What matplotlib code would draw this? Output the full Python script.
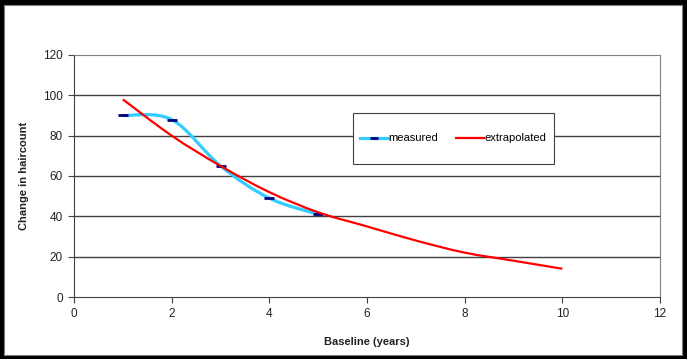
import matplotlib
matplotlib.use('Agg')
import matplotlib.pyplot as plt
from matplotlib.path import Path
from matplotlib.patches import PathPatch, Rectangle
from matplotlib.lines import Line2D
import numpy as np

plt.rcParams['font.family'] = ['Liberation Sans', 'DejaVu Sans']

# measured points
meas_x = [1, 2, 3, 4, 5]
meas_y = [90, 88, 65, 49, 41]
# extrapolated curve
extr_x = [1, 2, 3, 4, 5, 6, 7, 8, 9, 10]
extr_y = [98, 80, 65, 52, 42, 35, 28, 22, 18, 14]

xticks = [0, 2, 4, 6, 8, 10, 12]
yticks = [0, 20, 40, 60, 80, 100, 120]

cyan = '#33CCFF'
navy = '#000080'
red = '#FF0000'


def smooth_path(xs, ys):
    # Excel-style smoothed line: cubic Bezier segments through the points
    pts = np.column_stack([xs, ys]).astype(float)
    n = len(pts)
    verts = [pts[0]]
    codes = [Path.MOVETO]
    for i in range(n - 1):
        p0 = pts[i - 1] if i > 0 else pts[i]
        p1 = pts[i]
        p2 = pts[i + 1]
        p3 = pts[i + 2] if i + 2 < n else pts[i + 1]
        c1 = p1 + (p2 - p0) / 6.0
        c2 = p2 - (p3 - p1) / 6.0
        verts += [c1, c2, p2]
        codes += [Path.CURVE4] * 3
    return Path(verts, codes)


fig = plt.figure(figsize=(6.87, 3.59), dpi=100, facecolor='black')
# white chart area inside black frame
fig.patches.append(Rectangle((4 / 687, 4 / 359), 678 / 687, 350 / 359,
                             transform=fig.transFigure, facecolor='white',
                             edgecolor='#808080', lw=0.8, zorder=-1))

ax = fig.add_axes([74 / 687, 1 - 297 / 359, 586 / 687, 242 / 359])
ax.set_facecolor('white')

for yv in yticks[1:-1]:
    ax.axhline(yv, color='#404040', lw=1.0, zorder=1)

ax.add_patch(PathPatch(smooth_path(meas_x, meas_y), facecolor='none',
                       edgecolor=cyan, lw=2.3, zorder=3, capstyle='butt'))
ax.plot(meas_x, meas_y, linestyle='none', marker='_', color=navy,
        markersize=7.5, markeredgewidth=2.0, zorder=4)
ax.add_patch(PathPatch(smooth_path(extr_x, extr_y), facecolor='none',
                       edgecolor=red, lw=1.6, zorder=5))

ax.set_xlim(0, 12)
ax.set_ylim(0, 120)
ax.set_xticks(xticks)
ax.set_yticks(yticks)
ax.tick_params(direction='out', length=4, width=0.8, color='#404040',
               labelsize=8.5, labelcolor='#222222', pad=4)
for s in ['top', 'right']:
    ax.spines[s].set_color('#808080')
    ax.spines[s].set_linewidth(0.8)
for s in ['left', 'bottom']:
    ax.spines[s].set_color('#404040')
    ax.spines[s].set_linewidth(0.8)

ax.set_xlabel('Baseline (years)', fontsize=8, fontweight='bold',
              color='#222222', labelpad=12)
ax.set_ylabel('Change in haircount', fontsize=8, fontweight='bold',
              color='#222222', labelpad=10)

# legend box drawn separately so its size can match the original
leg_box = (0.476, 0.55, 0.343, 0.21)
ax.add_patch(Rectangle(leg_box[:2], leg_box[2], leg_box[3],
                       transform=ax.transAxes, facecolor='white',
                       edgecolor='#404040', lw=0.8, zorder=6))
handles = [Line2D([], [], color=cyan, lw=2.3, marker='_', mec=navy,
                  ms=6, mew=2.0),
           Line2D([], [], color=red, lw=1.6)]
leg = ax.legend(handles, ['measured', 'extrapolated'], ncol=2,
                loc='center', bbox_to_anchor=leg_box, fontsize=8,
                frameon=False, handlelength=2.5, handletextpad=0.05,
                borderpad=0, borderaxespad=0, columnspacing=1.6)
leg.set_zorder(7)

fig.savefig('out.png', dpi=100, facecolor=fig.get_facecolor())
